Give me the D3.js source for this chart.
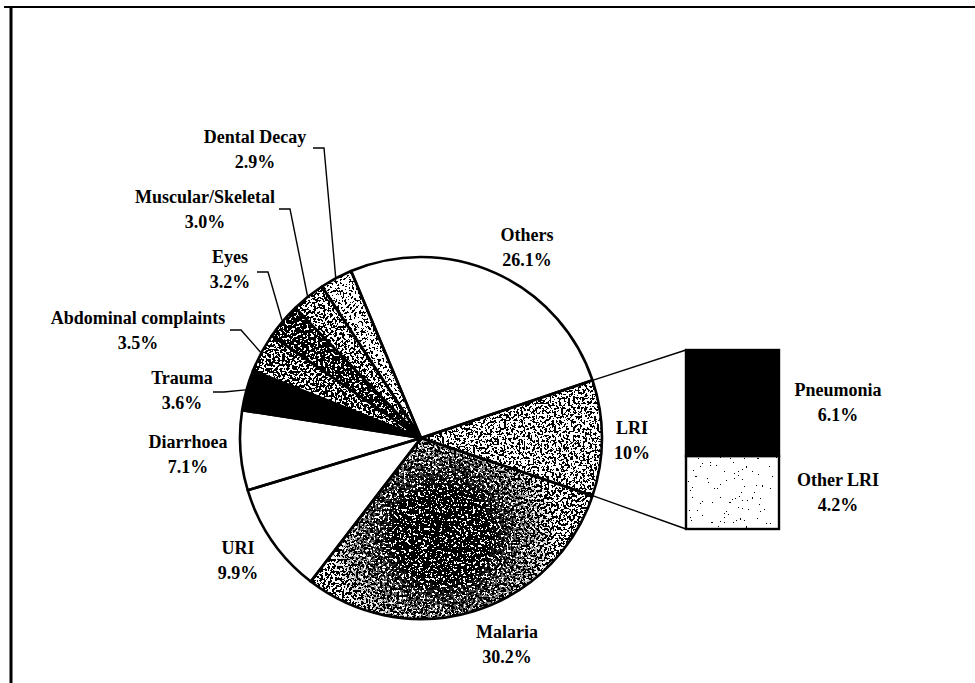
<!DOCTYPE html>
<html>
<head>
<meta charset="utf-8">
<script src="https://cdn.jsdelivr.net/npm/d3@7"></script>
<style>
  html, body { margin: 0; padding: 0; background: #fff; }
  svg { display: block; }
  text { font-family: "Liberation Serif", "Times New Roman", serif; font-weight: bold; font-size: 18px; fill: #000; }
</style>
</head>
<body>
<svg id="chart" width="975" height="683"></svg>
<script>
// ---------- data ----------
const categories = ["Others", "LRI", "Malaria", "URI", "Diarrhoea", "Trauma",
                    "Abdominal complaints", "Eyes", "Muscular/Skeletal", "Dental Decay"];
const barCategories = ["Pneumonia", "Other LRI"];
const barValues = [6.1, 4.2];
const pieValues = [26.1, null, 30.2, 9.9, 7.1, 3.6, 3.5, 3.2, 3.0, 2.9]; // LRI = sum of bar
const pieValueLabels = ["26.1%", "10%", "30.2%", "9.9%", "7.1%", "3.6%", "3.5%", "3.2%", "3.0%", "2.9%"];
const barValueLabels = ["6.1%", "4.2%"];

// ---------- layout / style ----------
const W = 975, H = 683;
const cx = 421, cy = 438, R = 181;
const barX = 686, barW = 93, barTop = 350, barBottom = 529;

const labelPos = {
  "Others": [527, 235], "LRI": [632, 428], "Malaria": [507, 632], "URI": [238, 548],
  "Diarrhoea": [188, 442], "Trauma": [182, 378], "Abdominal complaints": [138, 318],
  "Eyes": [230, 257], "Muscular/Skeletal": [205, 197], "Dental Decay": [255, 137]
};
const leaderStart = {
  "Trauma": [213, 392], "Abdominal complaints": [230, 330], "Eyes": [257, 272],
  "Muscular/Skeletal": [279, 209], "Dental Decay": [313, 148]
};
const barLabelPos = { "Pneumonia": [838, 390], "Other LRI": [838, 480] };
const lineGap = 24.5;

// fill styles: base fill, black speckle threshold
const sliceStyle = {
  "Others": {base: "#fff"},
  "LRI": {base: "#fff", black: 0.53},
  "Malaria": {base: "#fff", black: 0.505, core: 0.455},
  "URI": {base: "#fff"},
  "Diarrhoea": {base: "#fff"},
  "Trauma": {base: "#000"},
  "Abdominal complaints": {base: "#fff", black: 0.48},
  "Eyes": {base: "#fff", black: 0.41},
  "Muscular/Skeletal": {base: "#fff", black: 0.51},
  "Dental Decay": {base: "#fff", black: 0.57}
};

const svg = d3.select("#chart");
const defs = svg.append("defs");

function makeSpeckle(id, T, freq, seed) {
  const f = defs.append("filter").attr("id", id)
    .attr("x", 0).attr("y", 0).attr("width", 1).attr("height", 1)
    .attr("color-interpolation-filters", "sRGB");
  f.append("feTurbulence").attr("type", "fractalNoise").attr("baseFrequency", freq)
    .attr("numOctaves", 2).attr("seed", seed).attr("result", "noise");
  f.append("feColorMatrix").attr("in", "noise").attr("type", "matrix")
    .attr("values", `0 0 0 0 0  0 0 0 0 0  0 0 0 0 0  1 0 0 0 ${0.5 - T}`)
    .attr("result", "a");
  f.append("feComponentTransfer").attr("in", "a").attr("result", "t")
    .append("feFuncA").attr("type", "discrete").attr("tableValues", "0 1");
  f.append("feComposite").attr("in", "t").attr("in2", "SourceGraphic").attr("operator", "in");
  return `url(#${id})`;
}

// Malaria dark core mask
const mg = defs.append("radialGradient").attr("id", "coreGrad")
  .attr("gradientUnits", "userSpaceOnUse").attr("cx", 442).attr("cy", 535).attr("r", 115);
mg.append("stop").attr("offset", "0%").attr("stop-color", "#fff");
mg.append("stop").attr("offset", "40%").attr("stop-color", "#fff");
mg.append("stop").attr("offset", "100%").attr("stop-color", "#000");
defs.append("mask").attr("id", "coreMask").attr("maskUnits", "userSpaceOnUse")
  .attr("x", 0).attr("y", 0).attr("width", W).attr("height", H)
  .append("rect").attr("x", 0).attr("y", 0).attr("width", W).attr("height", H)
  .attr("fill", "url(#coreGrad)");

// ---------- pie ----------
const lriValue = d3.sum(barValues);
const vals = pieValues.map((v, i) => categories[i] === "LRI" ? lriValue : v);
const total = d3.sum(vals);
const lriIdx = categories.indexOf("LRI");
const beforeLri = d3.sum(vals.slice(0, lriIdx));
// Excel bar-of-pie: the split slice is centred at 3 o'clock
const start = Math.PI / 2 - (beforeLri + lriValue / 2) / total * 2 * Math.PI;

const pie = d3.pie().sort(null).value(d => d.v)
  .startAngle(start).endAngle(start + 2 * Math.PI);
const arcs = pie(categories.map((c, i) => ({c, v: vals[i], label: pieValueLabels[i]})));
const arc = d3.arc().innerRadius(0).outerRadius(R);

const gPie = svg.append("g").attr("transform", `translate(${cx},${cy})`);

gPie.selectAll("path.base").data(arcs).join("path").attr("class", "base")
  .attr("d", arc).attr("fill", d => sliceStyle[d.data.c].base);

let fid = 0;
arcs.forEach(d => {
  const st = sliceStyle[d.data.c];
  if (st.black !== undefined) {
    gPie.append("path").attr("d", arc(d)).attr("fill", "#000")
      .attr("filter", makeSpeckle("sb" + (fid++), st.black, 0.42, 3 + fid));
  }
  if (st.core !== undefined) {
    gPie.append("g").attr("transform", `translate(${-cx},${-cy})`).attr("mask", "url(#coreMask)")
      .append("path").attr("transform", `translate(${cx},${cy})`).attr("d", arc(d)).attr("fill", "#000")
      .attr("filter", makeSpeckle("sc" + (fid++), st.core, 0.42, 31 + fid));
  }
});

gPie.selectAll("path.outline").data(arcs).join("path").attr("class", "outline")
  .attr("d", arc).attr("fill", "none").attr("stroke", "#000")
  .attr("stroke-width", 2.6).attr("stroke-linejoin", "round");

// ---------- bar ----------
const lri = arcs[lriIdx];
const y = d3.scaleLinear().domain([0, lriValue]).range([barTop, barBottom]);
const stack = [];
let acc = 0;
barValues.forEach((v, i) => { stack.push({c: barCategories[i], y0: acc, y1: acc + v, label: barValueLabels[i]}); acc += v; });

const pt = a => [cx + R * Math.sin(a), cy - R * Math.cos(a)];
const pTop = pt(lri.startAngle), pBot = pt(lri.endAngle);
svg.append("line").attr("x1", pTop[0]).attr("y1", pTop[1]).attr("x2", barX).attr("y2", y(0))
  .attr("stroke", "#000").attr("stroke-width", 1.4);
svg.append("line").attr("x1", pBot[0]).attr("y1", pBot[1]).attr("x2", barX).attr("y2", y(lriValue))
  .attr("stroke", "#000").attr("stroke-width", 1.4);

const barFill = {"Pneumonia": "#000", "Other LRI": "#fff"};
svg.selectAll("rect.bar").data(stack).join("rect").attr("class", "bar")
  .attr("x", barX).attr("width", barW)
  .attr("y", d => y(d.y0)).attr("height", d => y(d.y1) - y(d.y0))
  .attr("fill", d => barFill[d.c]);
const olri = stack[1];
svg.append("rect").attr("x", barX).attr("width", barW)
  .attr("y", y(olri.y0)).attr("height", y(olri.y1) - y(olri.y0)).attr("fill", "#000")
  .attr("filter", makeSpeckle("olri", 0.73, 0.5, 21));
svg.selectAll("rect.barOutline").data(stack).join("rect").attr("class", "barOutline")
  .attr("x", barX).attr("width", barW)
  .attr("y", d => y(d.y0)).attr("height", d => y(d.y1) - y(d.y0))
  .attr("fill", "none").attr("stroke", "#000").attr("stroke-width", 2.4);

// ---------- leader lines ----------
arcs.forEach(d => {
  const s = leaderStart[d.data.c];
  if (!s) return;
  const mid = (d.startAngle + d.endAngle) / 2;
  const e = [cx + (R + 1) * Math.sin(mid), cy - (R + 1) * Math.cos(mid)];
  svg.append("polyline")
    .attr("points", `${s[0]},${s[1]} ${s[0] + 11},${s[1]} ${e[0]},${e[1]}`)
    .attr("fill", "none").attr("stroke", "#000").attr("stroke-width", 1.4);
});

// ---------- labels ----------
function twoLine(x, yy, a, b) {
  const t = svg.append("text").attr("text-anchor", "middle");
  t.append("tspan").attr("x", x).attr("y", yy).attr("dy", "0.35em").text(a);
  t.append("tspan").attr("x", x).attr("y", yy + lineGap).attr("dy", "0.35em").text(b);
}
arcs.forEach(d => {
  const p = labelPos[d.data.c];
  twoLine(p[0], p[1], d.data.c, d.data.label);
});
stack.forEach(d => {
  const p = barLabelPos[d.c];
  twoLine(p[0], p[1], d.c, d.label);
});

// ---------- frame ----------
svg.append("line").attr("x1", 4).attr("y1", 7).attr("x2", W).attr("y2", 7)
  .attr("stroke", "#000").attr("stroke-width", 2);
svg.append("line").attr("x1", 11).attr("y1", 6).attr("x2", 11).attr("y2", H)
  .attr("stroke", "#000").attr("stroke-width", 3);
</script>
</body>
</html>
